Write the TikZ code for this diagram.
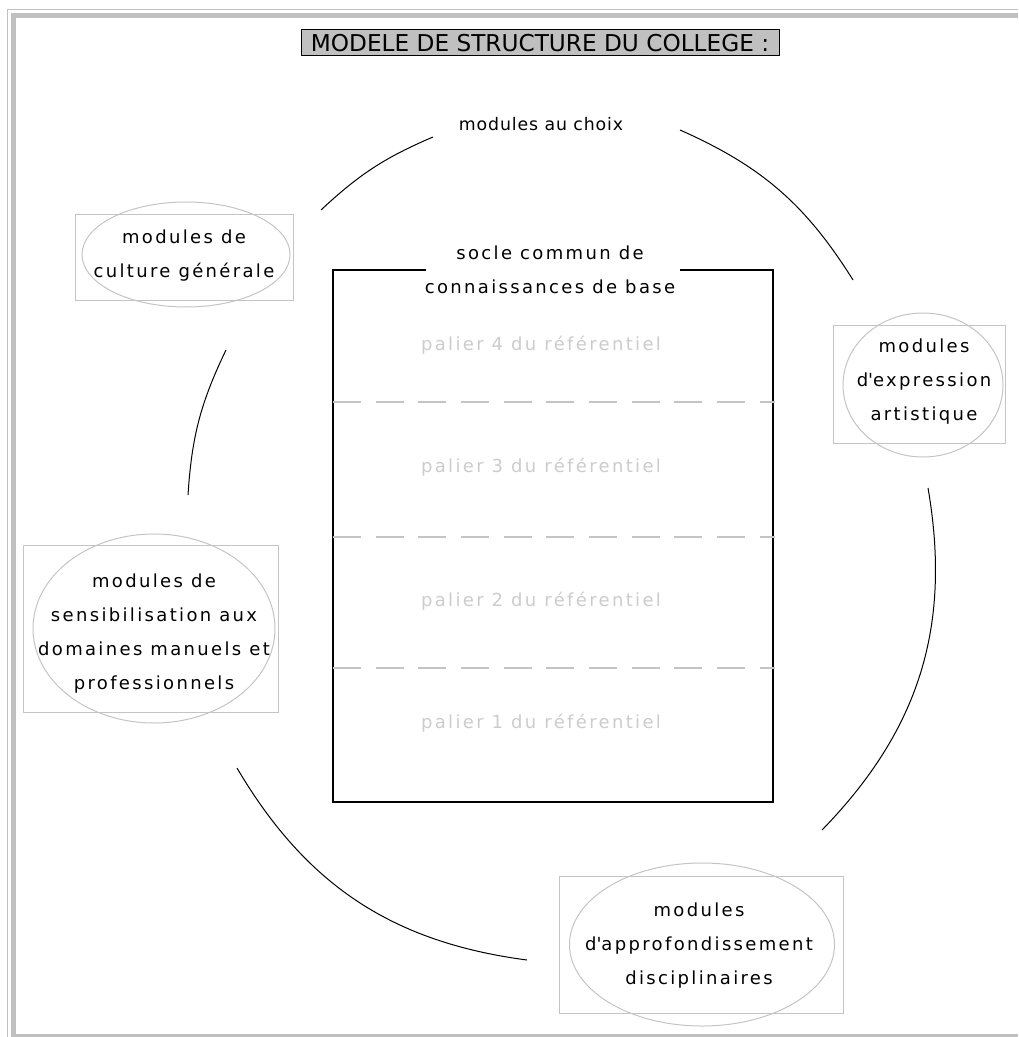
\documentclass[tikz,border=0pt]{standalone}
\usepackage{fontspec}
\setmainfont{DejaVu Sans}
\newfontfamily\modfamily[LetterSpace=13]{DejaVu Sans}
\newfontfamily\choixfamily[LetterSpace=5]{DejaVu Sans}
\usepackage{tikz}
\usetikzlibrary{positioning}

\definecolor{framegray}{RGB}{192,192,192}
\definecolor{titlegray}{RGB}{192,192,192}
\definecolor{boxgray}{RGB}{196,196,196}
\definecolor{paliergray}{RGB}{204,204,204}
\newcommand{\modfont}{\modfamily\fontsize{13.5}{25.5}\selectfont}

\begin{document}
\begin{tikzpicture}[x=0.75pt,y=0.75pt,yscale=-1,xscale=1,
  modtext/.style={inner sep=0pt,align=center,font=\modfont},
  palier/.style={text=paliergray,font=\modfont},
  circarc/.style={line width=0.75pt},
  dashline/.style={draw=boxgray,line width=1.2pt,dash pattern=on 21pt off 11pt}]
\useasboundingbox (0,0) rectangle (1018,1037);

%Page frame
\draw [framegray,line width=0.75pt] (7.5,1037) -- (7.5,9.5) -- (1018,9.5) ;
\draw [framegray,line width=3.75pt] (13.5,1037) -- (13.5,15.5) -- (1018,15.5) ;
\draw [framegray,line width=2.5pt] (11,1035.5) -- (1018,1035.5) ;

% Title
\node (titre) at (540,43) [draw=black,fill=titlegray,line width=0.75pt,minimum width=358.5pt,minimum height=19.5pt,inner sep=0pt,font=\fontsize{17.4}{20}\selectfont] {MODELE DE STRUCTURE DU COLLEGE :};

% Text Node
\node (choix) at (541,124) [font=\choixfamily\fontsize{13}{15}\selectfont] {modules au choix};

%Socle rectangle, open at the top for its title
\draw [line width=1pt] (426,270) -- (333,270) -- (333,802) -- (773,802) -- (773,270) -- (680,270) ;
\node (socle) at (550,270) [align=center,font=\modfont] {socle commun de\\connaissances de base};

%Dashed Lines
\foreach \y in {402,537,668}
  \draw [dashline] (333,\y) -- (775,\y) ;

% Paliers
\foreach \k/\y in {4/345,3/467,2/601,1/723}
  \node (pal\k) at (541,\y) [palier] {palier \k\ du référentiel};

%Module frames: rectangle and ellipse
\foreach \xa/\ya/\xb/\yb/\cx/\cy/\rx/\ry in {75/215/293/300/186/254.5/104/52.5,
    833/325/1005/443/923/385/80/72,
    23/545/278/712/154/628.5/121/94.5,
    559/876/843/1013/702/944.5/132.5/81.5}
{
  \draw [boxgray,line width=0.75pt] (\xa,\ya) rectangle (\xb,\yb) ;
  \draw [boxgray,line width=0.75pt] (\cx,\cy) ellipse [x radius=\rx,y radius=\ry] ;
}

% Modules
\node (culture) at (184,256) [modtext] {modules de\\culture générale};
\node (expression) at (924,382) [modtext] {modules\\d\textquotesingle expression\\artistique};
\node (sensib) at (154,634) [modtext] {modules de\\sensibilisation aux\\domaines manuels et\\professionnels};
\node (approf) at (699,946) [modtext] {modules\\d\textquotesingle approfondissement\\disciplinaires};

%Arcs of the circle
\coordinate (a1) at (321,210); \coordinate (a2) at (433,137);
\coordinate (b1) at (680,130); \coordinate (b2) at (853,280);
\coordinate (c1) at (928,488); \coordinate (c2) at (822,830);
\coordinate (d1) at (527,960); \coordinate (d2) at (237,768);
\coordinate (e1) at (188,495); \coordinate (e2) at (226,350);
\draw [circarc] (a1) to[bend right=10] (a2) ;
\draw [circarc] (b1) to[bend right=17] (b2) ;
\draw [circarc] (c1) to[bend right=27] (c2) ;
\draw [circarc] (d1) to[bend right=26] (d2) ;
\draw [circarc] (e1) to[bend right=11] (e2) ;
\end{tikzpicture}
\end{document}
